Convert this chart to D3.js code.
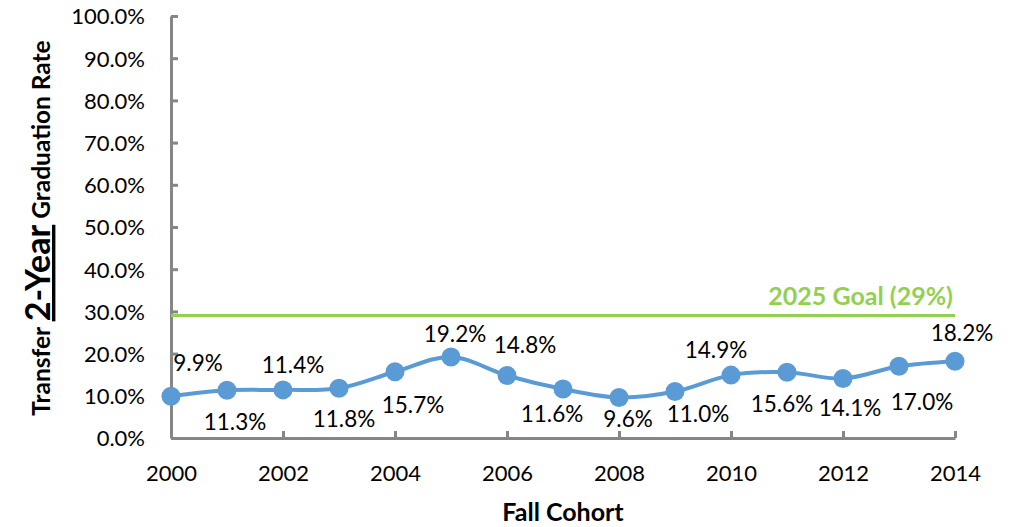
<!DOCTYPE html>
<html>
<head>
<meta charset="utf-8">
<script src="https://cdn.jsdelivr.net/npm/d3@7"></script>
<style>
  body { margin: 0; background: #fff; }
  text { font-family: Lato, "Open Sans", sans-serif; fill: #000; }
</style>
</head>
<body>
<svg id="chart" width="1020" height="527"></svg>
<script>
// data
const years = [2000, 2001, 2002, 2003, 2004, 2005, 2006, 2007, 2008, 2009, 2010, 2011, 2012, 2013, 2014];
const rates = [9.9, 11.3, 11.4, 11.8, 15.7, 19.2, 14.8, 11.6, 9.6, 11.0, 14.9, 15.6, 14.1, 17.0, 18.2];
const goalRate = 29;
const goalLabel = '2025 Goal (29%)';
const yTicks = [0, 10, 20, 30, 40, 50, 60, 70, 80, 90, 100];
const xTicks = [2000, 2002, 2004, 2006, 2008, 2010, 2012, 2014];

// where each data label sits relative to its marker (dx, baseline dy), like the excel placement
const labelOffsets = [
  [27, -25], [8, 40], [10, -17], [5, 39], [18, 41], [4, -15], [18, -23], [-11, 33],
  [9, 30], [23, 30], [-15, -17], [-5, 40], [7, 38], [23, 44], [7, -20]
];

const blue = '#5B9BD5';
const green = '#92D050';
const grey = '#868686';

const svg = d3.select('#chart');

const x = d3.scaleLinear().domain([2000, 2014]).range([171, 955]);
const y = d3.scaleLinear().domain([0, 100]).range([438, 16]);

// y axis
const yAxisG = svg.append('g')
  .attr('class', 'axis yaxis')
  .attr('transform', 'translate(' + x(2000) + ',0)')
  .call(d3.axisLeft(y)
    .tickValues(yTicks)
    .tickSize(-7)
    .tickSizeOuter(0)
    .tickPadding(26)
    .tickFormat(d => d.toFixed(1) + '%'));

// x axis
const xAxisG = svg.append('g')
  .attr('class', 'axis xaxis')
  .attr('transform', 'translate(0,' + y(0) + ')')
  .call(d3.axisBottom(x)
    .tickValues(xTicks)
    .tickSize(-7)
    .tickSizeOuter(0)
    .tickPadding(27)
    .tickFormat(d3.format('d')));

svg.selectAll('.axis path, .axis line')
  .attr('stroke', grey)
  .attr('stroke-width', 3);
svg.selectAll('.axis text')
  .attr('font-size', 22)
  .attr('font-family', 'Lato, sans-serif')
  .attr('fill', '#000');
yAxisG.selectAll('text').attr('dy', '0.36em');

// goal line
svg.append('line')
  .attr('x1', x(2000))
  .attr('x2', x(2014))
  .attr('y1', y(goalRate))
  .attr('y2', y(goalRate))
  .attr('stroke', green)
  .attr('stroke-width', 3);

svg.append('text')
  .attr('x', x(2014) - 2)
  .attr('y', y(goalRate) - 11)
  .attr('text-anchor', 'end')
  .attr('font-size', 25)
  .attr('font-weight', 'bold')
  .style('fill', green)
  .text(goalLabel);

// series
const points = years.map((yr, i) => ({ year: yr, rate: rates[i], off: labelOffsets[i] }));

const line = d3.line()
  .x(d => x(d.year))
  .y(d => y(d.rate))
  .curve(d3.curveCatmullRom.alpha(0.5));

svg.append('path')
  .datum(points)
  .attr('d', line)
  .attr('fill', 'none')
  .attr('stroke', blue)
  .attr('stroke-width', 4);

svg.selectAll('.marker')
  .data(points)
  .enter()
  .append('circle')
  .attr('class', 'marker')
  .attr('cx', d => x(d.year))
  .attr('cy', d => y(d.rate))
  .attr('r', 9.5)
  .attr('fill', blue);

svg.selectAll('.dataLabel')
  .data(points)
  .enter()
  .append('text')
  .attr('class', 'dataLabel')
  .attr('x', d => x(d.year) + d.off[0])
  .attr('y', d => y(d.rate) + d.off[1])
  .attr('text-anchor', 'middle')
  .attr('font-size', 22.5)
  .text(d => d.rate.toFixed(1) + '%');

// axis titles
svg.append('text')
  .attr('x', 563)
  .attr('y', 521)
  .attr('text-anchor', 'middle')
  .attr('font-size', 25)
  .attr('font-weight', 'bold')
  .text('Fall Cohort');

const yTitle = svg.append('text')
  .attr('transform', 'translate(50,228) rotate(-90)')
  .attr('text-anchor', 'middle')
  .attr('font-weight', 'bold');
yTitle.append('tspan').attr('font-size', 24.5).text('Transfer ');
yTitle.append('tspan').attr('font-size', 34).style('text-decoration', 'underline').text('2-Year');
yTitle.append('tspan').attr('font-size', 24.5).text(' Graduation Rate');
</script>
</body>
</html>
